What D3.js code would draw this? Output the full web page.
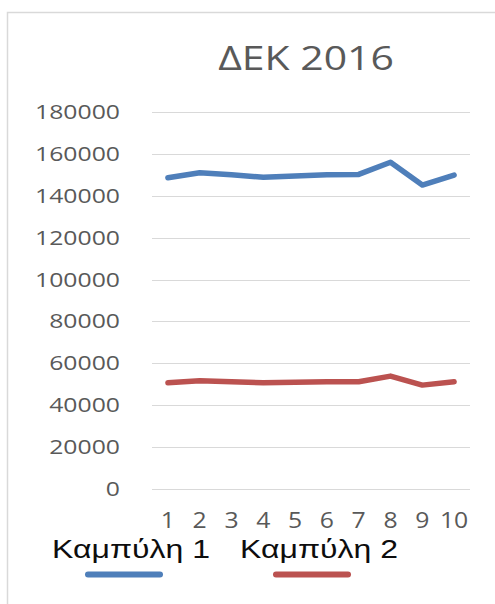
<!DOCTYPE html>
<html>
<head>
<meta charset="utf-8">
<script src="https://cdn.jsdelivr.net/npm/d3@7"></script>
<style>
  html, body { margin: 0; padding: 0; background: #fff; }
  svg { display: block; }
</style>
</head>
<body>
<svg id="chart" width="495" height="604"></svg>
<script>
// Chart data
const categories = [1, 2, 3, 4, 5, 6, 7, 8, 9, 10];
const curve1 = [148600, 151000, 150000, 148800, 149500, 150000, 150200, 156000, 145100, 149900];
const curve2 = [50700, 51700, 51200, 50700, 51000, 51200, 51200, 53900, 49600, 51200];
const yTicks = [0, 20000, 40000, 60000, 80000, 100000, 120000, 140000, 160000, 180000];
const seriesNames = ["Καμπύλη 1", "Καμπύλη 2"];
const seriesColors = ["#4f7fba", "#bb5250"];

const svg = d3.select("#chart");

// Stretch a text element horizontally around its anchor
function widen(sel, k) {
  sel.each(function () {
    const len = this.getComputedTextLength();
    d3.select(this).attr("textLength", len * k).attr("lengthAdjust", "spacingAndGlyphs");
  });
}

// Outer frame (left and top edges)
svg.append("path")
  .attr("d", "M7.5,604 V12.5 H495")
  .attr("fill", "none")
  .attr("stroke", "#d9d9d9")
  .attr("stroke-width", 1.5);

const x = d3.scaleBand().domain(categories).range([152, 470]);
const y = d3.scaleLinear().domain([0, 180000]).range([489, 112]);

// Title
svg.append("text")
  .attr("x", 306).attr("y", 70)
  .attr("text-anchor", "middle")
  .attr("font-family", "Open Sans")
  .attr("font-size", 33)
  .attr("fill", "#595959")
  .text("ΔΕΚ 2016")
  .call(widen, 1.24);

// Horizontal gridlines
svg.append("g")
  .selectAll("line")
  .data(yTicks)
  .join("line")
  .attr("x1", 152).attr("x2", 470)
  .attr("y1", d => Math.round(y(d)) + 0.5)
  .attr("y2", d => Math.round(y(d)) + 0.5)
  .attr("stroke", "#d9d9d9")
  .attr("stroke-width", 1);

// Y axis labels
svg.append("g")
  .selectAll("text")
  .data(yTicks)
  .join("text")
  .attr("x", 120)
  .attr("y", d => y(d) + 7)
  .attr("text-anchor", "end")
  .attr("font-family", "Open Sans")
  .attr("font-size", 19.5)
  .attr("fill", "#595959")
  .text(d => d)
  .call(widen, 1.27);

// X axis labels
svg.append("g")
  .selectAll("text")
  .data(categories)
  .join("text")
  .attr("x", d => x(d) + x.bandwidth() / 2)
  .attr("y", 528)
  .attr("text-anchor", "middle")
  .attr("font-family", "Open Sans")
  .attr("font-size", 22.5)
  .attr("fill", "#595959")
  .text(d => d)
  .call(widen, 1.1);

// Series lines
const line = d3.line()
  .x((d, i) => x(categories[i]) + x.bandwidth() / 2)
  .y(d => y(d));

[curve1, curve2].forEach((vals, k) => {
  svg.append("path")
    .datum(vals)
    .attr("d", line)
    .attr("fill", "none")
    .attr("stroke", seriesColors[k])
    .attr("stroke-width", 5.5)
    .attr("stroke-linejoin", "round")
    .attr("stroke-linecap", "round");
});

// Legend: label above, swatch line below
const legendX = [52, 240];
const swatchX = [[88, 160], [276, 348]];
seriesNames.forEach((name, k) => {
  svg.append("text")
    .attr("x", legendX[k]).attr("y", 558)
    .attr("font-family", "Liberation Sans")
    .attr("font-size", 25)
    .attr("fill", "#0d0d0d")
    .text(name)
    .call(widen, 1.28);
  svg.append("line")
    .attr("x1", swatchX[k][0]).attr("x2", swatchX[k][1])
    .attr("y1", 574.5).attr("y2", 574.5)
    .attr("stroke", seriesColors[k])
    .attr("stroke-width", 6)
    .attr("stroke-linecap", "round");
});
</script>
</body>
</html>
